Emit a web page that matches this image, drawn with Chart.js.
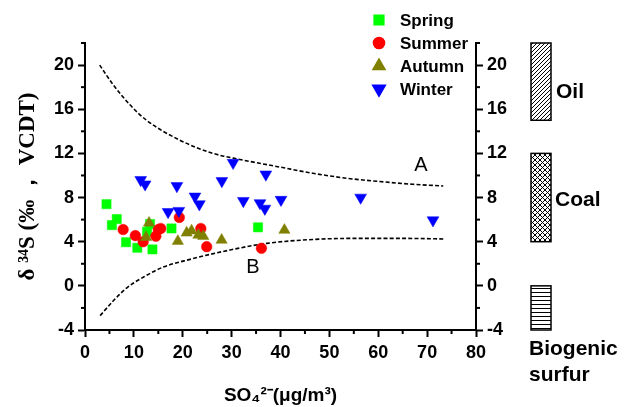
<!DOCTYPE html>
<html><head><meta charset="utf-8">
<script src="https://cdn.jsdelivr.net/npm/chart.js@4.4.0/dist/chart.umd.min.js"></script>
<style>html,body{margin:0;padding:0;background:#fff;}canvas{display:block;}</style>
</head><body>
<canvas id="c" width="625" height="407"></canvas>
<script>
// ---- data ----
const seriesNames = ['Spring', 'Summer', 'Autumn', 'Winter'];
const springX = [4.4, 6.5, 5.5, 8.4, 10.7, 13.8, 12.7, 13.3, 17.7, 35.4];
const springY = [7.4, 6.05, 5.5, 3.95, 3.45, 3.3, 4.9, 5.6, 5.2, 5.3];
const summerX = [7.8, 10.3, 11.9, 14.5, 15.0, 15.5, 19.3, 23.7, 24.9, 36.1];
const summerY = [5.1, 4.55, 4.0, 4.5, 5.1, 5.2, 6.2, 5.2, 3.55, 3.4];
const autumnX = [13.1, 12.5, 19.0, 20.8, 21.8, 23.2, 24.2, 27.95, 40.8];
const autumnY = [5.7, 4.4, 4.05, 4.8, 5.0, 4.6, 4.5, 4.15, 5.05];
const winterX = [11.4, 12.3, 18.8, 22.5, 23.4, 17.0, 19.2, 28.0, 30.3, 37.0, 32.4, 35.8, 36.8, 40.1, 56.4, 71.2];
const winterY = [9.6, 9.2, 9.05, 8.1, 7.4, 6.7, 6.8, 9.5, 11.15, 10.1, 7.7, 7.5, 7.0, 7.8, 8.0, 5.95];
const curveAX = [3.0, 5.8, 9.2, 12.6, 19.4, 26.2, 31.7, 40.0, 46.6, 53.5, 60.3, 67.1, 73.3];
const curveAY = [20.0, 18.2, 16.4, 15.0, 13.2, 12.0, 11.45, 10.75, 10.2, 9.75, 9.45, 9.2, 9.05];
const curveBX = [3.1, 5.7, 8.5, 12.0, 16.0, 21.5, 29.7, 37.2, 46.6, 55.0, 65.0, 73.3];
const curveBY = [-2.7, -1.4, -0.2, 0.8, 1.7, 2.4, 3.25, 3.85, 4.2, 4.3, 4.3, 4.25];
const curveNames = ['A', 'B'];
const xTicks = [0, 10, 20, 30, 40, 50, 60, 70, 80];
const xMinorTicks = [5, 15, 25, 35, 45, 55, 65, 75];
const yTicks = [-4, 0, 4, 8, 12, 16, 20];
const yMinorTicks = [-2, 2, 6, 10, 14, 18, 22];
const sourceNames = ['Oil', 'Coal', 'Biogenic surfur'];
const sourceLow = [15, 4, -4];
const sourceHigh = [22, 12, 0];

// ---- build ----
const pts = (xs, ys) => xs.map((x, i) => ({x, y: ys[i]}));
const styles = [
  {pointStyle: 'rect', radius: 6.5, rotation: 0, color: '#00ff00'},
  {pointStyle: 'circle', radius: 5.3, rotation: 0, color: '#ff0000'},
  {pointStyle: 'triangle', radius: 6.5, rotation: 0, color: '#808000'},
  {pointStyle: 'triangle', radius: 6.8, rotation: 180, color: '#0000ff'}
];
const seriesData = [pts(springX, springY), pts(summerX, summerY), pts(autumnX, autumnY), pts(winterX, winterY)];
const orders = [4, 3, 2, 1];
const datasets = seriesNames.map((n, i) => ({
  label: n, data: seriesData[i], order: orders[i],
  pointStyle: styles[i].pointStyle, pointRadius: styles[i].radius, pointRotation: styles[i].rotation,
  backgroundColor: styles[i].color, borderColor: styles[i].color, pointBorderWidth: 0.5, showLine: false
}));
[[curveAX, curveAY], [curveBX, curveBY]].forEach((c, i) => datasets.push({
  label: curveNames[i], data: pts(c[0], c[1]), showLine: true, pointRadius: 0, order: 5,
  borderColor: '#000', borderWidth: 1.6, borderDash: [4, 2.2], cubicInterpolationMode: 'monotone', fill: false
}));

function makePattern(kind) {
  const s = kind === 'cross' ? 5 : (kind === 'diag' ? 4 : 4);
  const c = document.createElement('canvas'); c.width = s; c.height = s;
  const g = c.getContext('2d');
  g.fillStyle = '#fff'; g.fillRect(0, 0, s, s);
  g.strokeStyle = '#000'; g.lineWidth = 1;
  g.beginPath();
  if (kind === 'diag') { g.moveTo(0, s); g.lineTo(s, 0); g.moveTo(-1, 1); g.lineTo(1, -1); g.moveTo(s - 1, s + 1); g.lineTo(s + 1, s - 1); }
  else if (kind === 'cross') { g.moveTo(0, s); g.lineTo(s, 0); g.moveTo(0, 0); g.lineTo(s, s); }
  else { g.moveTo(0, 0.5); g.lineTo(s, 0.5); }
  g.stroke();
  return g.canvas;
}

const FONT = "'Liberation Sans', Arial, sans-serif";
const extras = {
  id: 'extras',
  afterDraw(chart) {
    const ctx = chart.ctx, xs = chart.scales.x, ys = chart.scales.y, ca = chart.chartArea;
    ctx.save();
    ctx.strokeStyle = '#000'; ctx.lineWidth = 2;
    // minor ticks
    xMinorTicks.forEach(v => { const p = xs.getPixelForValue(v); ctx.beginPath(); ctx.moveTo(p, ca.bottom); ctx.lineTo(p, ca.bottom + 4); ctx.stroke(); });
    yMinorTicks.forEach(v => { const p = ys.getPixelForValue(v);
      ctx.beginPath(); ctx.moveTo(ca.left, p); ctx.lineTo(ca.left - 4, p); ctx.stroke();
      ctx.beginPath(); ctx.moveTo(ca.right, p); ctx.lineTo(ca.right + 4, p); ctx.stroke(); });
    // legend
    const lx = 379, ly = [20, 43, 66, 89];
    seriesNames.forEach((n, i) => {
      ctx.fillStyle = styles[i].color; ctx.strokeStyle = styles[i].color;
      Chart.helpers.drawPoint(ctx, {pointStyle: styles[i].pointStyle, radius: styles[i].radius, rotation: styles[i].rotation, borderWidth: 0.5}, lx, ly[i]);
      ctx.fillStyle = '#000'; ctx.font = 'bold 17px ' + FONT; ctx.textBaseline = 'middle'; ctx.textAlign = 'left';
      ctx.fillText(n, 400, ly[i] + 1);
    });
    // curve labels
    ctx.font = '20px ' + FONT; ctx.textAlign = 'center'; ctx.fillStyle = '#000';
    ctx.fillText(curveNames[0], 421, 165);
    ctx.fillText(curveNames[1], 253, 267);
    // source bars
    const kinds = ['diag', 'cross', 'horiz'];
    const bx = ca.right + 55, bw = 20;
    sourceNames.forEach((n, i) => {
      const top = ys.getPixelForValue(sourceHigh[i]), bot = ys.getPixelForValue(sourceLow[i]);
      ctx.fillStyle = ctx.createPattern(makePattern(kinds[i]), 'repeat');
      ctx.fillRect(bx, top, bw, bot - top);
      ctx.strokeStyle = '#000'; ctx.lineWidth = 1.5; ctx.strokeRect(bx, top, bw, bot - top);
    });
    ctx.fillStyle = '#000'; ctx.font = 'bold 21px ' + FONT; ctx.textAlign = 'left'; ctx.textBaseline = 'middle';
    ctx.fillText(sourceNames[0], bx + bw + 5, 92);
    ctx.fillText(sourceNames[1], bx + bw + 4, 200);
    const bio = sourceNames[2].split(' ');
    ctx.fillText(bio[0], bx - 2, 349);
    ctx.fillText(bio[1], bx - 2, 375);
    ctx.restore();
  }
};

const tickFont = {family: FONT, size: 18, weight: 'bold'};
const yAxisBase = {
  type: 'linear', min: -4, max: 22,
  afterBuildTicks: s => { s.ticks = yTicks.map(v => ({value: v})); },
  ticks: {font: tickFont, color: '#000', padding: 4},
  grid: {drawOnChartArea: false, drawTicks: true, tickLength: 7, tickWidth: 2, tickColor: '#000'},
  border: {display: true, color: '#000', width: 2}
};

new Chart(document.getElementById('c'), {
  type: 'scatter',
  data: {datasets},
  options: {
    responsive: false, animation: false, devicePixelRatio: 1,
    layout: {padding: {top: 43, right: 109, left: 0, bottom: 0}},
    plugins: {legend: {display: false}, tooltip: {enabled: false}},
    scales: {
      x: {
        type: 'linear', position: 'bottom', min: 0, max: 80,
        afterBuildTicks: s => { s.ticks = xTicks.map(v => ({value: v})); },
        afterFit: s => { s.height = 77; },
        ticks: {font: tickFont, color: '#000', padding: 5, maxRotation: 0},
        grid: {drawOnChartArea: false, drawTicks: true, tickLength: 7, tickWidth: 2, tickColor: '#000'},
        border: {display: true, color: '#000', width: 2},
        title: {display: true, text: 'SO₄²⁻(μg/m³)', color: '#000', font: {family: FONT, size: 19, weight: 'bold'}, padding: {top: 0, bottom: 0}}
      },
      y: Object.assign({}, yAxisBase, {
        position: 'left',
        afterFit: s => { s.width = 85; },
        title: {display: true, text: 'δ ³⁴S (‰ ， VCDT)', color: '#000', font: {family: "'Liberation Serif', 'Times New Roman', serif", size: 23, weight: 'bold'}, padding: {top: 14, bottom: 0}}
      }),
      y2: Object.assign({}, yAxisBase, {
        position: 'right',
        afterFit: s => { s.width = 40; }
      })
    }
  },
  plugins: [extras]
});
</script>
</body></html>
